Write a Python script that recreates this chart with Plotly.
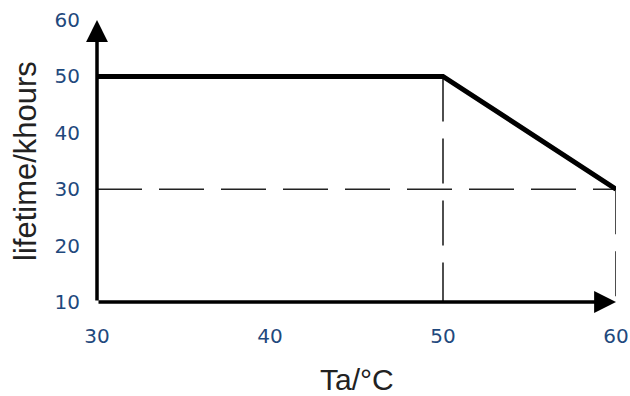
import plotly.graph_objects as go

# Data
x_curve = [30, 50, 60]          # Ta / °C
y_curve = [50, 50, 30]          # lifetime / khours
x_ticks = [30, 40, 50, 60]
y_ticks = [10, 20, 30, 40, 50, 60]
x_range = [30, 60]
y_range = [10, 60]

tick_color = "#1F497D"
title_color = "#222222"

fig = go.Figure()

# dashed guide lines (derived from the curve's knee and end points)
guide = dict(color="#222222", width=1.6, dash="45px,17px")
fig.add_trace(go.Scatter(x=[x_curve[1], x_curve[1]], y=[y_curve[1], y_range[0]],
                         mode="lines", line=guide, cliponaxis=False, hoverinfo="skip"))
fig.add_trace(go.Scatter(x=[x_range[0], x_curve[2]], y=[y_curve[2], y_curve[2]],
                         mode="lines", line=guide, cliponaxis=False, hoverinfo="skip"))
fig.add_trace(go.Scatter(x=[x_curve[2], x_curve[2]], y=[y_curve[2], y_range[0]],
                         mode="lines", line=guide, cliponaxis=False, hoverinfo="skip"))

# main curve
fig.add_trace(go.Scatter(x=x_curve, y=y_curve, mode="lines",
                         line=dict(color="black", width=5),
                         cliponaxis=False, hoverinfo="skip"))

# axes with arrows
for (tx, ty) in [(x_range[0], y_range[1]), (x_range[1], y_range[0])]:
    fig.add_annotation(x=tx, y=ty, ax=x_range[0], ay=y_range[0],
                       xref="x", yref="y", axref="x", ayref="y",
                       showarrow=True, arrowhead=2, arrowsize=1.25,
                       arrowwidth=3.5, arrowcolor="black", text="")

fig.add_annotation(text="Ta/°C", xref="paper", yref="paper", x=0.5, y=0,
                   xanchor="center", yanchor="top", yshift=-59, showarrow=False,
                   font=dict(family="Liberation Sans", size=30, color=title_color))
fig.add_annotation(text="lifetime/khours", xref="paper", yref="paper", x=0, y=0.5,
                   xanchor="center", yanchor="middle", xshift=-72, textangle=-90,
                   showarrow=False,
                   font=dict(family="Liberation Sans", size=31, color=title_color))

fig.update_layout(
    width=630, height=396,
    margin=dict(l=97, r=14, t=20, b=94, autoexpand=False),
    plot_bgcolor="white", paper_bgcolor="white",
    showlegend=False,
    xaxis=dict(range=x_range, tickvals=x_ticks, showgrid=False, zeroline=False,
               showline=False, ticks="", ticklabelstandoff=20, automargin=False,
               tickfont=dict(family="DejaVu Sans", size=20, color=tick_color)),
    yaxis=dict(range=y_range, tickvals=y_ticks, showgrid=False, zeroline=False,
               showline=False, ticks="", ticklabelstandoff=16, automargin=False,
               tickfont=dict(family="DejaVu Sans", size=20, color=tick_color)),
)

fig.write_html("out.html",
               config={"displayModeBar": False},
               post_script="document.body.style.margin='0';document.body.style.overflow='hidden';")
